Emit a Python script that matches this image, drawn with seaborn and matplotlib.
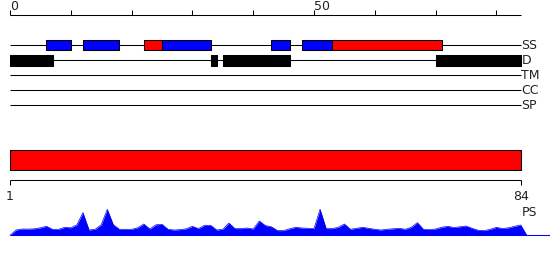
import numpy as np
import pandas as pd
import matplotlib
matplotlib.use("Agg")
import matplotlib.pyplot as plt
import seaborn as sns

# ---------------- data ----------------
seq_len = 84
top_ticks = list(range(0, 81, 10))
top_tick_labels = {0: "0", 50: "50"}
track_names = ["SS", "D", "TM", "CC", "SP"]

ss_start = [6, 12, 22, 25, 43, 48, 53]
ss_end = [10, 18, 25, 33, 46, 53, 71]
ss_kind = ["E", "E", "H", "E", "E", "E", "H"]
ss_colors = {"E": "#0000ff", "H": "#ff0000"}

dis_start = [0, 33, 35, 70]
dis_end = [7, 34, 46, 84]

domain_start = 0
domain_end = 84
domain_labels = ["1", "84"]

ps_values = [0, 5.3, 6.3, 6.2, 6.5, 7.5, 9, 6, 6, 8, 7.5, 10.5, 22.7, 5.3, 6,
             10.5, 26, 10.5, 6, 6, 6, 7.5, 11.3, 6.3, 10.5, 11, 6, 5.3, 5.7,
             6.5, 9, 6.7, 10, 10, 5.3, 6, 12.3, 6.7, 6.7, 7.3, 6.3, 14.3, 9.7,
             8.5, 4.7, 4.7, 6.5, 8, 7.3, 7, 6.7, 26, 6.7, 6.7, 8, 11.3, 6, 7,
             8, 7, 6, 5.3, 6, 6.5, 7, 6, 8, 12.7, 6, 5.7, 6.3, 8, 9, 7.7, 8.5,
             9.3, 7, 5, 4.7, 6, 8, 6.7, 7.5, 9, 10.3, 0]
ps_pos = list(range(len(ps_values)))

# ---------------- layout (pixel units) ----------------
FIG_W, FIG_H = 550, 260
PX0, PXU = 10.0, 6.08
TOP_RULER_Y = 15.0
TRACK_Y0, TRACK_STEP = 45.0, 15.0
BOX_H = 10.0
DOMAIN_TOP, DOMAIN_H = 150.0, 20.0
BOTTOM_RULER_Y = 180.3
PS_BASE = 235.3
LW = 0.75
TEXT_COLOR = "#222222"

sns.set_theme(style="white")
plt.rcParams["font.family"] = ["Liberation Sans Narrow", "DejaVu Sans"]

fig = plt.figure(figsize=(FIG_W / 100, FIG_H / 100), dpi=100)
ax = fig.add_axes([0, 0, 1, 1])

# top ruler
ax.hlines(TOP_RULER_Y, 0, seq_len, color="black", lw=LW)
ax.vlines(top_ticks, TOP_RULER_Y - 5, TOP_RULER_Y, color="black", lw=LW)
for t, lab in top_tick_labels.items():
    ax.text(t, TOP_RULER_Y - 2.5, lab, ha="left", va="bottom", fontsize=9,
            color=TEXT_COLOR)

# track lines + labels
for i, name in enumerate(track_names):
    y = TRACK_Y0 + i * TRACK_STEP
    ax.hlines(y, 0, seq_len, color="black", lw=LW, zorder=1)
    ax.text(seq_len + 0.1, y + 0.8, name, ha="left", va="center", fontsize=9,
            color=TEXT_COLOR)

# SS boxes
y_ss = TRACK_Y0
for s, e, k in zip(ss_start, ss_end, ss_kind):
    ax.broken_barh([(s, e - s)], (y_ss - BOX_H / 2, BOX_H),
                   facecolor=ss_colors[k], edgecolor="black", lw=LW, zorder=2)

# disorder boxes
y_d = TRACK_Y0 + TRACK_STEP
for s, e in zip(dis_start, dis_end):
    ax.broken_barh([(s, e - s)], (y_d - BOX_H / 2 + 0.3, BOX_H + 0.4),
                   facecolor="black", edgecolor="black", lw=LW, zorder=2)

# domain bar
ax.broken_barh([(domain_start, domain_end - domain_start)], (DOMAIN_TOP, DOMAIN_H),
               facecolor="#ff0000", edgecolor="black", lw=LW, zorder=2)

# bottom ruler
ax.hlines(BOTTOM_RULER_Y, domain_start, domain_end, color="black", lw=LW)
ax.vlines([domain_start, domain_end], BOTTOM_RULER_Y, BOTTOM_RULER_Y + 5,
          color="black", lw=LW)
for x, lab in zip([domain_start, domain_end], domain_labels):
    ax.text(x, BOTTOM_RULER_Y + 9.5, lab, ha="center", va="top", fontsize=9,
            color=TEXT_COLOR)

# PS profile
df = pd.DataFrame({"pos": ps_pos, "y": [PS_BASE - v for v in ps_values]})
sns.lineplot(data=df, x="pos", y="y", ax=ax, color="#0000ff", lw=0.5)
ax.fill_between(df["pos"], df["y"], PS_BASE, color="#0000ff", lw=0)
ax.hlines(PS_BASE, 0, (FIG_W - PX0) / PXU, color="#0000ff", lw=LW)
ax.text(seq_len + 0.15, 212, "PS", ha="left", va="center", fontsize=9,
        color=TEXT_COLOR)

ax.set_xlim(-PX0 / PXU, (FIG_W - PX0) / PXU)
ax.set_ylim(FIG_H, 0)
ax.axis("off")

fig.savefig("out.png", dpi=100)
